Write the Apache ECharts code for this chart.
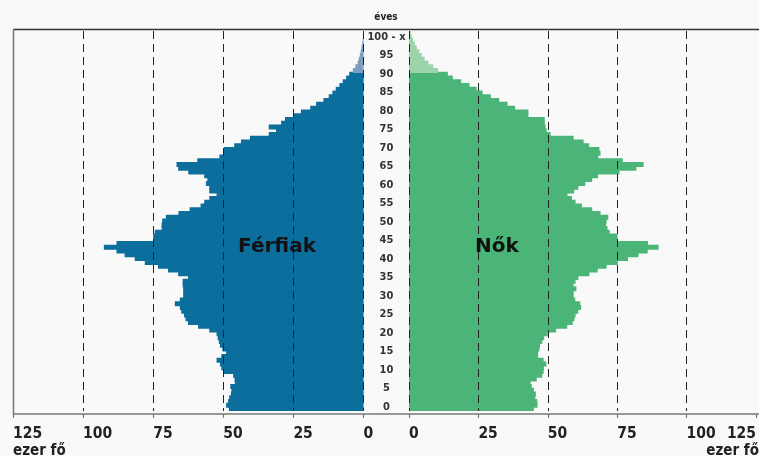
<!DOCTYPE html>
<html><head><meta charset="utf-8">
<script src="https://cdn.jsdelivr.net/npm/echarts@6/dist/echarts.min.js"></script>
<style>html,body{margin:0;padding:0;background:#f9f9f9}#c{width:759px;height:456px}</style>
</head><body><div id="c"></div>
<script>
// Age categories 0..100 ("100 - x" = 100 and older)
const ages = ['0','1','2','3','4','5','6','7','8','9',
 '10','11','12','13','14','15','16','17','18','19',
 '20','21','22','23','24','25','26','27','28','29',
 '30','31','32','33','34','35','36','37','38','39',
 '40','41','42','43','44','45','46','47','48','49',
 '50','51','52','53','54','55','56','57','58','59',
 '60','61','62','63','64','65','66','67','68','69',
 '70','71','72','73','74','75','76','77','78','79',
 '80','81','82','83','84','85','86','87','88','89',
 '90','91','92','93','94','95','96','97','98','99','100 - x'];
// Férfiak (ezer fő), index = age
const male = [48, 49, 48.3, 47.9, 47.3, 47.1, 47.5, 45.9, 46, 46.5,
 50, 50.7, 51.2, 52.4, 50.7, 49, 50.3, 51.2, 51.6, 52,
 52.4, 55, 59, 62.6, 63.5, 64, 65, 65.5, 67.3, 65.5,
 64.3, 64.3, 64.3, 64.5, 64.5, 62.6, 66.1, 69.7, 73.3, 78,
 81.6, 85.2, 88.1, 92.6, 88.1, 75, 75, 74.4, 72, 72,
 71.8, 70.5, 66, 62, 58.1, 56.8, 55, 52.4, 55, 55,
 56.2, 55.7, 56.8, 62.5, 66.1, 66.7, 59.3, 51.4, 49.8, 49.8,
 46.1, 43.7, 40.5, 33.8, 31.2, 33.8, 29.4, 28, 24.8, 22.3,
 19, 16.9, 14.3, 12.4, 11.1, 9.9, 8.6, 7.4, 6.2, 5.1,
 3.8, 2.9, 2.1, 1.7, 1.3, 1.0, 0.7, 0.5, 0.3, 0.2, 0.1];
// Nők (ezer fő), index = age
const female = [45, 46.3, 46.2, 45.5, 45.7, 45, 44.2, 43.8, 46, 48,
 48.5, 48.6, 49.5, 48.5, 46.5, 46.5, 47, 47.2, 48, 48.7,
 50, 53, 57, 59, 59.6, 60, 61, 62, 61.7, 59.9,
 59.3, 59.3, 60.3, 59.3, 60, 61, 65, 68, 71.2, 75.2,
 78.9, 82.7, 86, 89.9, 86.1, 75.1, 75.1, 72.3, 71.5, 71,
 71.2, 71.8, 69, 66, 62.3, 60, 58.7, 57.1, 59.5, 61,
 63.5, 66, 68.1, 75.8, 81.9, 84.5, 77, 68.2, 69, 68.6,
 64.9, 62.9, 59.3, 51, 49.6, 49.2, 48.9, 48.9, 43, 43,
 38.2, 35.5, 32.5, 29.5, 26.5, 24.4, 21.8, 18.8, 15.8, 14,
 10.5, 8.7, 7.0, 5.6, 4.6, 3.7, 2.8, 2.1, 1.5, 1.0, 0.6];
const xMax = 125, xStep = 25;
const oldAgeFrom = 90;

const COND = "'Liberation Sans Narrow','DejaVu Sans Condensed',sans-serif";
const chart = echarts.init(document.getElementById('c'));
function barData(vals, dark, light){
  return vals.map((v,i)=>{
    const c = i>=oldAgeFrom?light:dark;
    return {value:v, itemStyle:{color:c}};
  });
}
function xAxisCfg(grid, inverse){
  return {gridIndex:grid, type:'value', inverse:inverse, min:0, max:xMax, interval:xStep, offset:3, z:10,
    axisLine:{show:false},
    axisTick:{show:true, length:4, lineStyle:{color:'#777', width:1.2}},
    axisLabel:{align:'left', margin:12, fontFamily:COND, fontWeight:'bold', fontSize:15.5, color:'#222',
      showMinLabel:true, showMaxLabel:true, alignMaxLabel: inverse? 'left':'right'},
    splitLine:{show:true, showMaxLine: inverse, lineStyle:{type:[8,5], color:'#222', width:1}}};
}
const option = {
  backgroundColor:'#f9f9f9',
  animation:false,
  grid:[{left:13, top:31, width:350.5, height:380},
        {left:409, top:31, width:350, height:380},
        {left:300, top:35, width:63.5, height:374}],
  xAxis:[xAxisCfg(0,true), xAxisCfg(1,false),
         {gridIndex:2, type:'value', show:false}],
  yAxis:[{gridIndex:0, type:'category', data:ages, show:false},
    {gridIndex:1, type:'category', data:ages, show:false},
    {gridIndex:2, type:'category', data:ages, position:'right',
      axisLine:{show:false}, axisTick:{show:false}, splitLine:{show:false},
      axisLabel:{interval:(i)=>i%5===0, align:'center', margin:23, fontFamily:COND, fontWeight:'bold', fontSize:11, color:'#333'}}],
  series:[
    {type:'bar', xAxisIndex:0, yAxisIndex:0, barWidth:5, z:1,
      data:barData(male,'#0b6e9c','#7d9ec2')},
    {type:'bar', xAxisIndex:1, yAxisIndex:1, barWidth:5, z:1,
      data:barData(female,'#4bb578','#9dd3ab')}
  ],
  graphic:[
    {type:'line', z:100, shape:{x1:13, y1:29.5, x2:759, y2:29.5}, style:{stroke:'#333', lineWidth:1.5}},
    {type:'line', z:100, shape:{x1:13.5, y1:29, x2:13.5, y2:414}, style:{stroke:'#777', lineWidth:1.5}},
    {type:'line', z:100, shape:{x1:13, y1:414, x2:759, y2:414}, style:{stroke:'#777', lineWidth:1.5}},
    {type:'text', z:100, x:277, y:247, style:{text:'Férfiak', font:"bold 20px 'DejaVu Sans'", fill:'#111', align:'center', verticalAlign:'middle'}},
    {type:'text', z:100, x:497, y:247, style:{text:'Nők', font:"bold 20px 'DejaVu Sans'", fill:'#111', align:'center', verticalAlign:'middle'}},
    {type:'text', z:100, x:386, y:17, style:{text:'éves', font:"bold 10px "+COND, fill:'#222', align:'center', verticalAlign:'middle'}},
    {type:'text', z:100, x:13, y:451, style:{text:'ezer fő', font:"bold 15px "+COND, fill:'#222', align:'left', verticalAlign:'middle'}},
    {type:'text', z:100, x:759, y:451, style:{text:'ezer fő', font:"bold 15px "+COND, fill:'#222', align:'right', verticalAlign:'middle'}}
  ]
};
chart.setOption(option);
</script></body></html>
